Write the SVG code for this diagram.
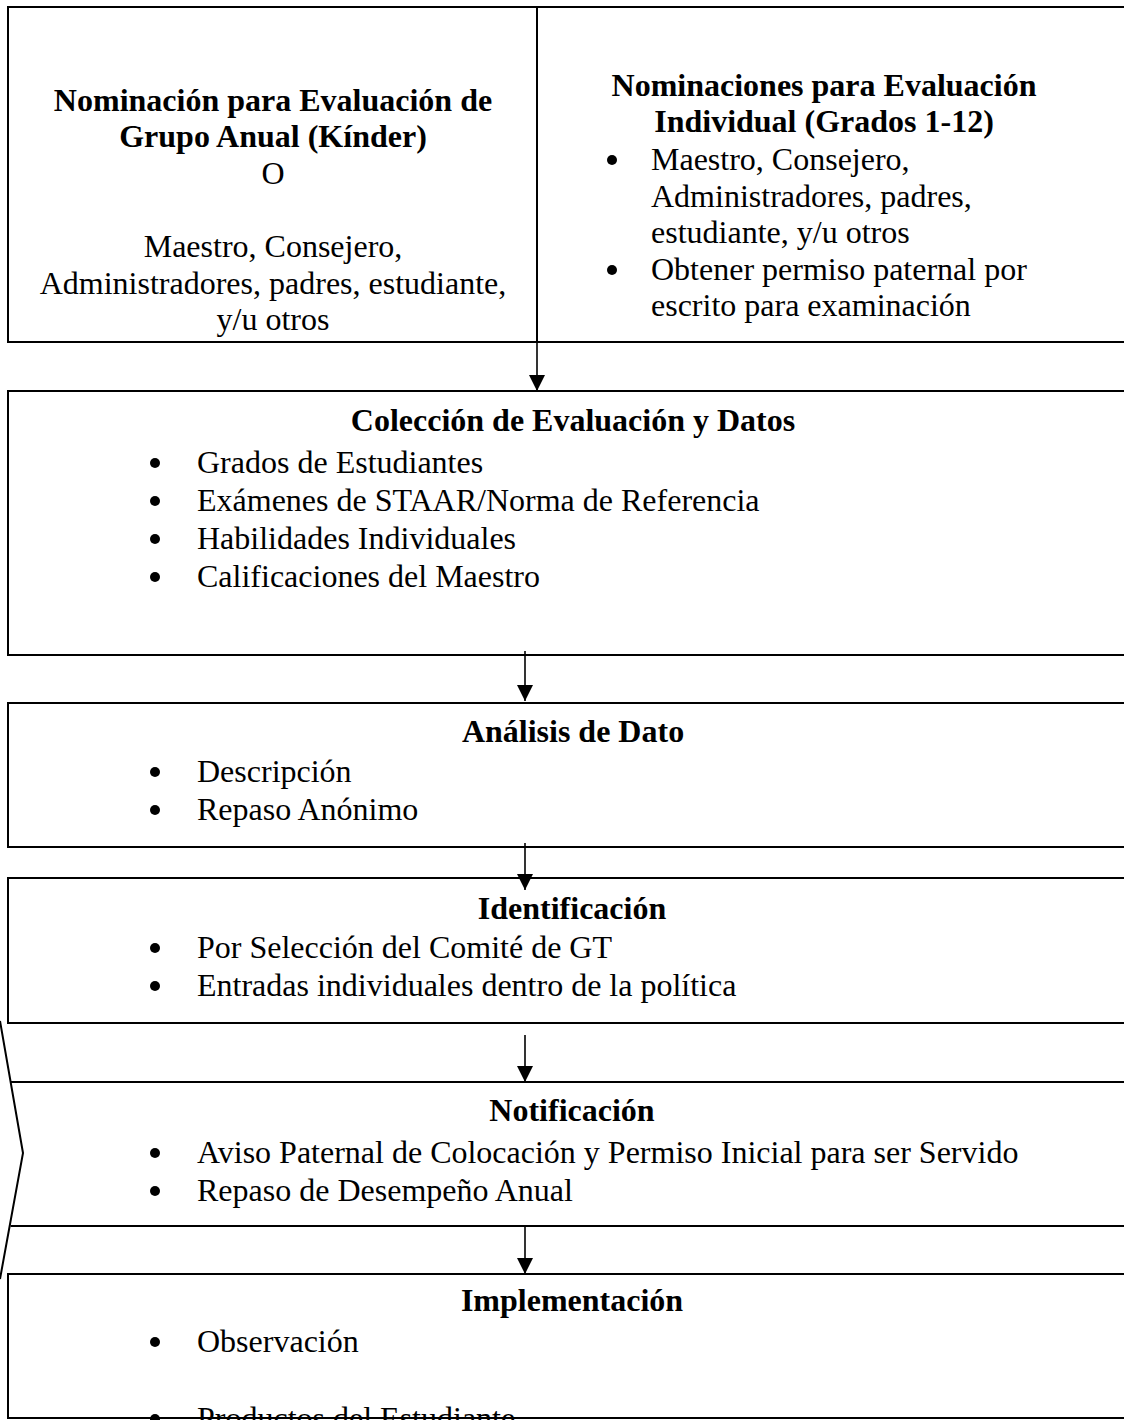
<svg xmlns="http://www.w3.org/2000/svg" width="1124" height="1420" viewBox="0 0 1124 1420">
<style>
text{font-family:"Liberation Serif","Times New Roman",serif;font-size:32px;fill:#000}
.b{font-weight:bold}
.c{text-anchor:middle}
.bl{fill:#000}
.box{fill:#fff;stroke:#000;stroke-width:2}
.ln{stroke:#000;stroke-width:2;fill:none}
.conn{stroke:#000;stroke-width:1.6;fill:none;marker-end:url(#ah)}
</style>
<defs>
<marker id="ah" viewBox="0 0 10 10" refX="10" refY="5" markerWidth="16" markerHeight="17" markerUnits="userSpaceOnUse" orient="auto">
<path d="M0,0 L10,5 L0,10 z" fill="#000"/>
</marker>
</defs>
<rect width="1124" height="1420" fill="#fff"/>

<g id="nominacion">
<rect class="box" x="8" y="7" width="1140" height="335"/>
<line class="ln" x1="537" y1="7" x2="537" y2="342"/>
<text class="b c" x="273" y="111">Nominación para Evaluación de</text>
<text class="b c" x="273" y="147">Grupo Anual (Kínder)</text>
<text class="c" x="273" y="184">O</text>
<text class="c" x="273" y="257">Maestro, Consejero,</text>
<text class="c" x="273" y="294">Administradores, padres, estudiante,</text>
<text class="c" x="273" y="330">y/u otros</text>
<text class="b c" x="824" y="96">Nominaciones para Evaluación</text>
<text class="b c" x="824" y="132">Individual (Grados 1-12)</text>
<circle class="bl" cx="612" cy="160" r="5"/>
<text x="651" y="170">Maestro, Consejero,</text>
<text x="651" y="207">Administradores, padres,</text>
<text x="651" y="243">estudiante, y/u otros</text>
<circle class="bl" cx="612" cy="270" r="5"/>
<text x="651" y="280">Obtener permiso paternal por</text>
<text x="651" y="316">escrito para examinación</text>
</g>

<g id="coleccion">
<rect class="box" x="8" y="391" width="1140" height="264"/>
<text class="b c" x="573" y="431">Colección de Evaluación y Datos</text>
<circle class="bl" cx="155" cy="463" r="5"/><text x="197" y="473">Grados de Estudiantes</text>
<circle class="bl" cx="155" cy="501" r="5"/><text x="197" y="511">Exámenes de STAAR/Norma de Referencia</text>
<circle class="bl" cx="155" cy="539" r="5"/><text x="197" y="549">Habilidades Individuales</text>
<circle class="bl" cx="155" cy="577" r="5"/><text x="197" y="587">Calificaciones del Maestro</text>
</g>

<g id="analisis">
<rect class="box" x="8" y="703" width="1140" height="144"/>
<text class="b c" x="573" y="742">Análisis de Dato</text>
<circle class="bl" cx="155" cy="772" r="5"/><text x="197" y="782">Descripción</text>
<circle class="bl" cx="155" cy="810" r="5"/><text x="197" y="820">Repaso Anónimo</text>
</g>

<g id="identificacion">
<rect class="box" x="8" y="878" width="1140" height="145"/>
<text class="b c" x="572" y="919">Identificación</text>
<circle class="bl" cx="155" cy="948" r="5"/><text x="197" y="958">Por Selección del Comité de GT</text>
<circle class="bl" cx="155" cy="986" r="5"/><text x="197" y="996">Entradas individuales dentro de la política</text>
</g>

<g id="notificacion">
<polyline class="ln" points="0,1021 23,1153 0,1279"/>
<line class="ln" x1="10.4" y1="1082" x2="1124" y2="1082"/>
<line class="ln" x1="10.6" y1="1226" x2="1124" y2="1226"/>
<text class="b c" x="572" y="1121">Notificación</text>
<circle class="bl" cx="155" cy="1153" r="5"/><text x="197" y="1163">Aviso Paternal de Colocación y Permiso Inicial para ser Servido</text>
<circle class="bl" cx="155" cy="1191" r="5"/><text x="197" y="1201">Repaso de Desempeño Anual</text>
</g>

<g id="implementacion">
<rect class="box" x="8" y="1274" width="1140" height="144"/>
<text class="b c" x="572" y="1311">Implementación</text>
<circle class="bl" cx="155" cy="1342" r="5"/><text x="197" y="1352">Observación</text>
<circle class="bl" cx="155" cy="1419" r="5"/><text x="197" y="1429">Productos del Estudiante</text>
<line class="ln" x1="8" y1="1418" x2="1124" y2="1418"/>
</g>

<g id="connectors">
<line class="conn" x1="537" y1="342" x2="537" y2="391"/>
<line class="conn" x1="525" y1="651" x2="525" y2="701"/>
<line class="conn" x1="525" y1="843" x2="525" y2="890"/>
<line class="conn" x1="525" y1="1035" x2="525" y2="1082"/>
<line class="conn" x1="525" y1="1226" x2="525" y2="1274"/>
</g>
</svg>
